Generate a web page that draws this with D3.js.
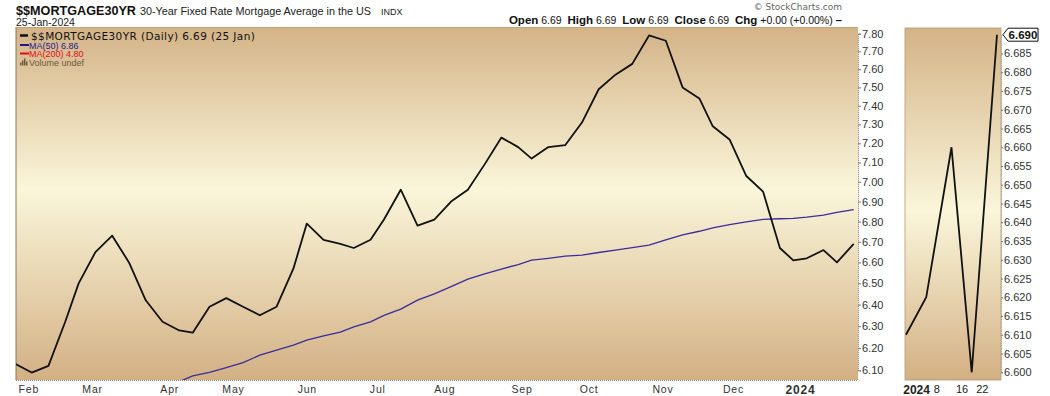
<!DOCTYPE html>
<html>
<head>
<meta charset="utf-8">
<script src="https://cdn.jsdelivr.net/npm/d3@7"></script>
<style>
  body { margin: 0; background: #fff; }
</style>
</head>
<body>
<div id="chart"></div>
<script>
// weekly closes (Thursday releases)
const dates = ['2023-01-26','2023-02-02','2023-02-09','2023-02-16','2023-02-23','2023-03-02','2023-03-09','2023-03-16','2023-03-23','2023-03-30',
  '2023-04-06','2023-04-13','2023-04-20','2023-04-27','2023-05-04','2023-05-11','2023-05-18','2023-05-25','2023-06-01','2023-06-08',
  '2023-06-15','2023-06-22','2023-06-29','2023-07-06','2023-07-13','2023-07-20','2023-07-27','2023-08-03','2023-08-10','2023-08-17',
  '2023-08-24','2023-08-31','2023-09-07','2023-09-14','2023-09-21','2023-09-28','2023-10-05','2023-10-12','2023-10-19','2023-10-26',
  '2023-11-02','2023-11-09','2023-11-16','2023-11-22','2023-11-30','2023-12-07','2023-12-14','2023-12-21','2023-12-28','2024-01-04',
  '2024-01-11','2024-01-18','2024-01-25']
const rates = [6.13,6.09,6.12,6.32,6.50,6.65,6.73,6.60,6.42,6.32,
  6.28,6.27,6.39,6.43,6.39,6.35,6.39,6.57,6.79,6.71,
  6.69,6.67,6.71,6.81,6.96,6.78,6.81,6.90,6.96,7.09,
  7.23,7.18,7.12,7.18,7.19,7.31,7.49,7.57,7.63,7.79,
  7.76,7.50,7.44,7.29,7.22,7.03,6.95,6.67,6.61,6.62,
  6.66,6.60,6.69]
const ma50 = [5.90,5.92,5.94,5.95,5.97,5.98,6.00,6.01,6.02,6.035,
  6.05,6.075,6.091,6.112,6.134,6.168,6.191,6.213,6.236,6.255,
  6.273,6.297,6.320,6.350,6.379,6.421,6.450,6.484,6.520,6.545,
  6.568,6.590,6.611,6.620,6.630,6.635,6.648,6.660,6.672,6.684,
  6.710,6.734,6.752,6.769,6.785,6.798,6.811,6.814,6.816,6.822,
  6.832,6.846,6.860]
const holidays = ['2023-02-20','2023-04-07','2023-05-29','2023-06-19','2023-07-04','2023-09-04','2023-11-23','2023-12-25','2024-01-01','2024-01-15']

const monthTicks = ['2023-02-01','2023-03-01','2023-04-03','2023-05-01','2023-06-01','2023-07-03','2023-08-01','2023-09-01','2023-10-02','2023-11-01','2023-12-01','2024-01-02']
const monthLabels = ['Feb','Mar','Apr','May','Jun','Jul','Aug','Sep','Oct','Nov','Dec','2024']
const yTicks = [6.1,6.2,6.3,6.4,6.5,6.6,6.7,6.8,6.9,7.0,7.1,7.2,7.3,7.4,7.5,7.6,7.7,7.8]

const zoomStart = '2023-12-28'
const zoomTicks = ['2024-01-02','2024-01-08','2024-01-16','2024-01-22']
const zoomLabels = ['2024','8','16','22']
const zoomYTicks = [6.600,6.605,6.610,6.615,6.620,6.625,6.630,6.635,6.640,6.645,6.650,6.655,6.660,6.665,6.670,6.675,6.680,6.685]

// trading-day index counted from the first date
const parse = d3.timeParse('%Y-%m-%d')
const fmt = d3.timeFormat('%Y-%m-%d')
function tradingIndex(ds) {
  let d = parse(dates[0]), end = parse(ds), n = 0
  while (d < end) {
    d = d3.timeDay.offset(d, 1)
    const wd = d.getDay()
    if (wd !== 0 && wd !== 6 && !holidays.includes(fmt(d))) n++
  }
  return n
}
const series = dates.map((d, i) => ({ t: tradingIndex(d), v: rates[i], ma: ma50[i] }))

const width = 1050, height = 396
const main = { left: 16, right: 858, top: 27, bottom: 380 }
const side = { left: 905, right: 1001, top: 28, bottom: 380 }
const SANS = 'Liberation Sans, Arial, sans-serif'
const VERD = 'DejaVu Sans, Verdana, sans-serif'

const svg = d3.select('#chart').append('svg')
  .attr('width', width).attr('height', height)
  .attr('font-family', SANS)

const defs = svg.append('defs')
function grad(id, mid) {
  const g = defs.append('linearGradient').attr('id', id)
    .attr('x1', 0).attr('y1', 0).attr('x2', 0).attr('y2', 1)
  g.append('stop').attr('offset', '0%').attr('stop-color', '#d4b387')
  g.append('stop').attr('offset', mid).attr('stop-color', '#faf6da')
  g.append('stop').attr('offset', '100%').attr('stop-color', '#d3b084')
}
grad('bg-main', '46%')
grad('bg-side', '52%')
defs.append('clipPath').attr('id', 'clip-main').append('rect')
  .attr('x', main.left).attr('y', main.top)
  .attr('width', main.right - main.left).attr('height', main.bottom - main.top)
defs.append('clipPath').attr('id', 'clip-side').append('rect')
  .attr('x', side.left).attr('y', side.top)
  .attr('width', side.right - side.left).attr('height', side.bottom - side.top)

// scales
const x = d3.scaleLinear().domain([0, 250]).range([14.9, 853.7])
const y = d3.scaleLog().domain([6.1, 7.8]).range([370.3, 33.7])
const t0 = tradingIndex(zoomStart)
const xs = d3.scaleLinear().domain([t0, 250]).range([906, 997])
const ys = d3.scaleLinear().domain([6.6, 6.69]).range([372.3, 34.7])

// header
const head = svg.append('g')
head.append('text').attr('x', 16).attr('y', 14.5).attr('fill', '#111')
  .attr('font-weight', 700).attr('font-size', 13.5)
  .attr('textLength', 120).attr('lengthAdjust', 'spacingAndGlyphs').text('$$MORTGAGE30YR')
head.append('text').attr('x', 140).attr('y', 14.5).attr('font-size', 11).attr('fill', '#222')
  .attr('textLength', 231).attr('lengthAdjust', 'spacingAndGlyphs')
  .text('30-Year Fixed Rate Mortgage Average in the US')
head.append('text').attr('x', 381).attr('y', 14.5).attr('font-size', 9).attr('fill', '#222').text('INDX')
head.append('text').attr('x', 16).attr('y', 26)
  .attr('font-size', 10.5)
  .attr('fill', '#222').text('25-Jan-2024')
head.append('text').attr('x', 842).attr('y', 10).attr('text-anchor', 'end')
  .attr('font-family', VERD).attr('font-size', 9)
  .attr('fill', '#666').text('© StockCharts.com')

const ohlc = head.append('text').attr('x', 842).attr('y', 24).attr('text-anchor', 'end')
  .attr('font-size', 11.5).attr('fill', '#111')
const parts = [['Open', ' 6.69  '], ['High', ' 6.69  '], ['Low', ' 6.69  '], ['Close', ' 6.69  '], ['Chg', ' +0.00 (+0.00%) ']]
parts.forEach(p => {
  ohlc.append('tspan').attr('font-weight', 700).text(p[0])
  ohlc.append('tspan').attr('font-size', 10.5).attr('xml:space', 'preserve').text(p[1])
})
ohlc.append('tspan').attr('font-weight', 700).text('–')

// main panel
svg.append('rect').attr('x', main.left).attr('y', main.top)
  .attr('width', main.right - main.left).attr('height', main.bottom - main.top)
  .attr('fill', 'url(#bg-main)')
svg.append('line').attr('x1', main.left).attr('x2', main.left)
  .attr('y1', main.top).attr('y2', main.bottom).attr('stroke', '#8a7656')
svg.append('line').attr('x1', main.left).attr('x2', main.right)
  .attr('y1', main.top + 0.5).attr('y2', main.top + 0.5).attr('stroke', '#c2a67c')

const plot = svg.append('g').attr('clip-path', 'url(#clip-main)')
plot.append('path').datum(series)
  .attr('d', d3.line().x(d => x(d.t)).y(d => y(d.ma)))
  .attr('fill', 'none').attr('stroke', '#3b2b9c').attr('stroke-width', 1.3)
plot.append('path').datum(series)
  .attr('d', d3.line().x(d => x(d.t)).y(d => y(d.v)))
  .attr('fill', 'none').attr('stroke', '#111').attr('stroke-width', 1.8)
  .attr('stroke-linejoin', 'round')

// legend
const leg = svg.append('g')
leg.append('line').attr('x1', 20).attr('x2', 28).attr('y1', 35.5).attr('y2', 35.5)
  .attr('stroke', '#111').attr('stroke-width', 2.5)
leg.append('text').attr('x', 31).attr('y', 39.5).attr('font-size', 10.5).attr('font-family', VERD)
  .attr('fill', '#111').attr('letter-spacing', 0.4).text('$$MORTGAGE30YR (Daily) 6.69 (25 Jan)')
const legRows = [['MA(50) 6.86', '#1c1a8a', 48.5], ['MA(200) 4.80', '#e0101a', 57]]
legRows.forEach(r => {
  leg.append('line').attr('x1', 20).attr('x2', 29).attr('y1', r[2] - 3.5).attr('y2', r[2] - 3.5)
    .attr('stroke', r[1]).attr('stroke-width', 2)
  leg.append('text').attr('x', 29).attr('y', r[2]).attr('font-size', 9)
    .attr('fill', r[1]).text(r[0])
})
const icon = leg.append('g').attr('fill', '#6b5a3c')
;[[20, 3], [22, 5], [24, 7], [26, 4]].forEach(b => {
  icon.append('rect').attr('x', b[0]).attr('y', 65.5 - b[1]).attr('width', 1.5).attr('height', b[1])
})
leg.append('text').attr('x', 29).attr('y', 65.5).attr('font-size', 9)
  .attr('fill', '#6b5a3c').text('Volume undef')

// main y axis
const yAxis = svg.append('g').attr('transform', `translate(${main.right},0)`)
  .call(d3.axisRight(y).tickValues(yTicks).tickFormat(d3.format('.2f')).tickSize(3))
yAxis.select('.domain').attr('stroke', '#777').attr('stroke-dasharray', '1,1')
yAxis.selectAll('.tick line').attr('stroke', '#777')
yAxis.selectAll('.tick text').attr('font-family', SANS)
  .attr('font-size', 11).attr('fill', '#333').attr('x', 4)

// main x axis
const xAxis = svg.append('g').attr('transform', `translate(0,${main.bottom})`)
  .call(d3.axisBottom(x).tickValues(monthTicks.map(tradingIndex))
    .tickFormat((d, i) => monthLabels[i]).tickSize(0))
xAxis.select('.domain').attr('d', `M${main.left},0.5H${main.right}`)
  .attr('stroke', '#888').attr('stroke-dasharray', '1,1')
xAxis.selectAll('.tick text').attr('font-family', SANS).attr('fill', '#333').attr('dy', '0.95em')
  .attr('letter-spacing', 0.8)
  .attr('font-weight', (d, i) => monthLabels[i] === '2024' ? 700 : 400)
  .attr('font-size', (d, i) => monthLabels[i] === '2024' ? 12 : 10.5)

// side panel (recent weeks)
svg.append('rect').attr('x', side.left).attr('y', side.top)
  .attr('width', side.right - side.left).attr('height', side.bottom - side.top)
  .attr('fill', 'url(#bg-side)').attr('stroke', '#b49a72').attr('stroke-width', 0.8)
const recent = series.filter(d => d.t >= t0)
svg.append('g').attr('clip-path', 'url(#clip-side)')
  .append('path').datum(recent)
  .attr('d', d3.line().x(d => xs(d.t)).y(d => ys(d.v)))
  .attr('fill', 'none').attr('stroke', '#111').attr('stroke-width', 1.8)

const sAxis = svg.append('g').attr('transform', `translate(${side.right},0)`)
  .call(d3.axisRight(ys).tickValues(zoomYTicks).tickFormat(d3.format('.3f')).tickSize(2))
sAxis.select('.domain').attr('stroke', '#999').attr('stroke-dasharray', '1,1')
sAxis.selectAll('.tick line').attr('stroke', '#777')
sAxis.selectAll('.tick text').attr('font-family', SANS)
  .attr('font-size', 11).attr('fill', '#333').attr('x', 3)

const sx = svg.append('g').attr('transform', `translate(0,${side.bottom})`)
  .call(d3.axisBottom(xs).tickValues(zoomTicks.map(tradingIndex))
    .tickFormat((d, i) => zoomLabels[i]).tickSize(0))
sx.select('.domain').remove()
sx.selectAll('.tick text').attr('font-family', SANS).attr('dy', '0.95em').attr('fill', '#222')
  .attr('font-weight', (d, i) => i === 0 ? 700 : 400)
  .attr('font-size', (d, i) => i === 0 ? 12 : 11)

// last value flag
const last = rates[rates.length - 1]
const fy = ys(last)
const flag = svg.append('g').attr('transform', `translate(${side.right + 2},${fy})`)
flag.append('path').attr('d', 'M0,0 L5,-6.5 H35 V6.5 H5 Z')
  .attr('fill', '#fff').attr('stroke', '#111').attr('stroke-width', 1)
flag.append('text').attr('x', 20).attr('y', 4).attr('text-anchor', 'middle')
  .attr('font-family', SANS).attr('font-weight', 700).attr('font-size', 11.5)
  .attr('fill', '#111').text(d3.format('.3f')(last))
</script>
</body>
</html>
